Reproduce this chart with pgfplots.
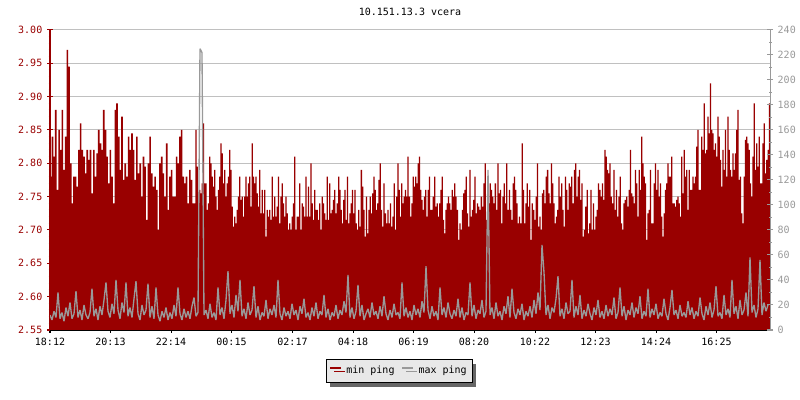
\documentclass[border=0pt]{standalone}
\usepackage{fontspec}
\setmainfont{DejaVu Sans Mono}
\usepackage{pgfplots}
\pgfplotsset{compat=1.18}
\usetikzlibrary{shadows}

\definecolor{minred}{HTML}{990000}
\definecolor{maxgray}{HTML}{999999}
\definecolor{gridgray}{HTML}{C0C0C0}
\definecolor{legfill}{HTML}{E8E8E8}
\definecolor{shadowgray}{HTML}{666666}

% 1 px of the reference = 0.75pt
\pgfplotsset{
  common/.style={
    scale only axis, width=540pt, height=225pt,
    at={(37.5pt,52.5pt)}, anchor=south west,
    xmin=0, xmax=1440,
    tick align=inside,
    major tick length=4.5pt, minor tick length=2.25pt,
    ticklabel style={font=\fontsize{7.5}{9}\selectfont},
    /pgf/number format/assume math mode=true,
  },
}

\begin{document}
\begin{tikzpicture}
\useasboundingbox (0,0) rectangle (600pt,300pt);

% min ping, left axis
\begin{axis}[common,
  ymin=2.55, ymax=3.00,
  axis x line=bottom, axis y line=left,
  x axis line style={black, line width=1.2pt, -},
  y axis line style={minred, line width=0.75pt, -},
  xtick={0,121,242,363,485,606,727,848,970,1091,1212,1333},
  xticklabels={18:12,20:13,22:14,00:15,02:17,04:18,06:19,08:20,10:22,12:23,14:24,16:25},
  xtick style={black, line width=0.75pt},
  major x tick style={/pgfplots/major tick length=3.75pt},
  ytick={2.55,2.60,...,3.01},
  minor y tick num=4,
  ytick style={minred, line width=0.75pt},
  yticklabel style={minred, /pgf/number format/.cd, fixed, fixed zerofill, precision=2},
  ymajorgrids, major grid style={gridgray, line width=0.75pt},
  title={10.151.13.3 vcera},
  title style={font=\fontsize{7.5}{9}\selectfont, yshift=1pt},
]
\addplot[const plot, fill=minred, draw=none] table[row sep=\\, x expr=0+\coordindex*3.3103, y index=0] {
2.78\\ 2.84\\ 2.81\\ 2.88\\ 2.76\\ 2.85\\ 2.82\\ 2.88\\ 2.79\\ 2.84\\ 2.97\\ 2.945\\ 2.80\\ 2.74\\ 2.78\\ 2.78\\ 2.765\\ 2.82\\ 2.86\\ 2.82\\
2.81\\ 2.785\\ 2.82\\ 2.805\\ 2.82\\ 2.755\\ 2.82\\ 2.78\\ 2.815\\ 2.85\\ 2.83\\ 2.82\\ 2.88\\ 2.85\\ 2.81\\ 2.77\\ 2.82\\ 2.78\\ 2.74\\ 2.88\\
2.89\\ 2.84\\ 2.79\\ 2.87\\ 2.775\\ 2.80\\ 2.78\\ 2.84\\ 2.82\\ 2.845\\ 2.82\\ 2.775\\ 2.84\\ 2.785\\ 2.80\\ 2.75\\ 2.81\\ 2.795\\ 2.715\\ 2.80\\
2.84\\ 2.785\\ 2.765\\ 2.78\\ 2.76\\ 2.70\\ 2.80\\ 2.81\\ 2.785\\ 2.75\\ 2.83\\ 2.73\\ 2.78\\ 2.79\\ 2.75\\ 2.75\\ 2.81\\ 2.80\\ 2.84\\ 2.85\\
2.78\\ 2.77\\ 2.78\\ 2.74\\ 2.79\\ 2.775\\ 2.74\\ 2.74\\
} \closedcycle;
\addplot[const plot, fill=minred, draw=none] table[row sep=\\, x expr=288+\coordindex*2.5043, y index=0] {
2.74\\ 2.85\\ 2.795\\ 2.72\\ 2.76\\ 2.755\\ 2.77\\ 2.86\\ 2.77\\ 2.77\\ 2.73\\ 2.74\\ 2.81\\ 2.80\\ 2.78\\ 2.765\\ 2.79\\ 2.75\\ 2.73\\ 2.76\\
2.78\\ 2.83\\ 2.815\\ 2.77\\ 2.79\\ 2.75\\ 2.77\\ 2.78\\ 2.82\\ 2.79\\ 2.735\\ 2.705\\ 2.72\\ 2.71\\ 2.73\\ 2.75\\ 2.78\\ 2.745\\ 2.75\\ 2.72\\
2.75\\ 2.78\\ 2.75\\ 2.77\\ 2.78\\ 2.735\\ 2.83\\ 2.78\\ 2.77\\ 2.78\\ 2.755\\ 2.735\\ 2.79\\ 2.725\\ 2.76\\ 2.725\\ 2.76\\ 2.69\\ 2.73\\ 2.72\\
2.73\\ 2.715\\ 2.78\\ 2.72\\ 2.75\\ 2.72\\ 2.735\\ 2.78\\ 2.71\\ 2.75\\ 2.77\\ 2.74\\ 2.72\\ 2.75\\ 2.725\\ 2.70\\ 2.71\\ 2.70\\ 2.72\\ 2.74\\
2.81\\ 2.70\\ 2.72\\ 2.72\\ 2.77\\ 2.70\\ 2.74\\ 2.735\\ 2.72\\ 2.78\\ 2.72\\ 2.765\\ 2.72\\ 2.80\\ 2.74\\ 2.715\\ 2.76\\ 2.73\\ 2.73\\ 2.715\\
2.74\\ 2.70\\ 2.75\\ 2.74\\ 2.725\\ 2.715\\ 2.78\\ 2.715\\ 2.77\\ 2.725\\ 2.73\\ 2.745\\ 2.76\\ 2.725\\ 2.74\\ 2.74\\
} \closedcycle;
\addplot[const plot, fill=minred, draw=none] table[row sep=\\, x expr=576+\coordindex*2.5263, y index=0] {
2.78\\ 2.76\\ 2.73\\ 2.71\\ 2.745\\ 2.76\\ 2.715\\ 2.78\\ 2.71\\ 2.725\\ 2.74\\ 2.76\\ 2.725\\ 2.76\\ 2.71\\ 2.70\\ 2.73\\ 2.705\\ 2.79\\ 2.765\\
2.73\\ 2.69\\ 2.75\\ 2.695\\ 2.73\\ 2.75\\ 2.725\\ 2.755\\ 2.78\\ 2.76\\ 2.73\\ 2.74\\ 2.775\\ 2.80\\ 2.73\\ 2.705\\ 2.77\\ 2.725\\ 2.71\\ 2.73\\
2.71\\ 2.74\\ 2.705\\ 2.72\\ 2.77\\ 2.70\\ 2.75\\ 2.80\\ 2.76\\ 2.72\\ 2.77\\ 2.74\\ 2.75\\ 2.76\\ 2.75\\ 2.81\\ 2.75\\ 2.72\\ 2.74\\ 2.78\\
2.765\\ 2.78\\ 2.77\\ 2.80\\ 2.81\\ 2.76\\ 2.745\\ 2.73\\ 2.75\\ 2.76\\ 2.72\\ 2.76\\ 2.78\\ 2.73\\ 2.73\\ 2.75\\ 2.78\\ 2.735\\ 2.74\\ 2.72\\
2.74\\ 2.76\\ 2.78\\ 2.715\\ 2.695\\ 2.73\\ 2.74\\ 2.75\\ 2.74\\ 2.73\\ 2.76\\ 2.75\\ 2.77\\ 2.75\\ 2.73\\ 2.685\\ 2.71\\ 2.70\\ 2.73\\ 2.755\\
2.76\\ 2.78\\ 2.725\\ 2.705\\ 2.79\\ 2.72\\ 2.73\\ 2.745\\ 2.78\\ 2.725\\ 2.74\\ 2.735\\ 2.73\\ 2.75\\ 2.75\\
} \closedcycle;
\addplot[const plot, fill=minred, draw=none] table[row sep=\\, x expr=864+\coordindex*2.5487, y index=0] {
2.735\\ 2.77\\ 2.80\\ 2.715\\ 2.77\\ 2.74\\ 2.77\\ 2.76\\ 2.75\\ 2.74\\ 2.77\\ 2.73\\ 2.80\\ 2.755\\ 2.76\\ 2.71\\ 2.75\\ 2.77\\ 2.74\\ 2.80\\
2.73\\ 2.76\\ 2.73\\ 2.715\\ 2.77\\ 2.78\\ 2.76\\ 2.74\\ 2.71\\ 2.72\\ 2.71\\ 2.83\\ 2.76\\ 2.71\\ 2.74\\ 2.77\\ 2.735\\ 2.76\\ 2.685\\ 2.74\\
2.73\\ 2.715\\ 2.75\\ 2.80\\ 2.705\\ 2.72\\ 2.70\\ 2.755\\ 2.76\\ 2.74\\ 2.78\\ 2.79\\ 2.755\\ 2.74\\ 2.80\\ 2.77\\ 2.74\\ 2.71\\ 2.72\\ 2.73\\
2.78\\ 2.75\\ 2.77\\ 2.73\\ 2.705\\ 2.78\\ 2.76\\ 2.73\\ 2.77\\ 2.765\\ 2.78\\ 2.74\\ 2.79\\ 2.80\\ 2.75\\ 2.78\\ 2.79\\ 2.745\\ 2.77\\ 2.69\\
2.70\\ 2.735\\ 2.76\\ 2.695\\ 2.71\\ 2.76\\ 2.70\\ 2.74\\ 2.70\\ 2.72\\ 2.73\\ 2.77\\ 2.76\\ 2.75\\ 2.77\\ 2.745\\ 2.82\\ 2.81\\ 2.79\\ 2.785\\
2.80\\ 2.75\\ 2.74\\ 2.79\\ 2.73\\ 2.76\\ 2.72\\ 2.75\\ 2.78\\ 2.71\\ 2.70\\ 2.74\\ 2.745\\ 2.745\\
} \closedcycle;
\addplot[const plot, fill=minred, draw=none] table[row sep=\\, x expr=1152+\coordindex*2.5043, y index=0] {
2.75\\ 2.735\\ 2.76\\ 2.82\\ 2.755\\ 2.75\\ 2.74\\ 2.79\\ 2.77\\ 2.72\\ 2.79\\ 2.76\\ 2.84\\ 2.80\\ 2.78\\ 2.77\\ 2.685\\ 2.725\\ 2.73\\ 2.79\\
2.71\\ 2.71\\ 2.77\\ 2.80\\ 2.76\\ 2.79\\ 2.75\\ 2.77\\ 2.72\\ 2.69\\ 2.725\\ 2.76\\ 2.77\\ 2.80\\ 2.78\\ 2.78\\ 2.81\\ 2.74\\ 2.74\\ 2.735\\
2.745\\ 2.75\\ 2.74\\ 2.72\\ 2.81\\ 2.755\\ 2.82\\ 2.78\\ 2.79\\ 2.73\\ 2.79\\ 2.76\\ 2.76\\ 2.78\\ 2.77\\ 2.78\\ 2.825\\ 2.85\\ 2.76\\ 2.76\\
2.84\\ 2.82\\ 2.89\\ 2.815\\ 2.82\\ 2.87\\ 2.845\\ 2.92\\ 2.85\\ 2.845\\ 2.82\\ 2.83\\ 2.81\\ 2.87\\ 2.84\\ 2.805\\ 2.765\\ 2.82\\ 2.79\\ 2.85\\
2.78\\ 2.87\\ 2.82\\ 2.79\\ 2.78\\ 2.815\\ 2.79\\ 2.815\\ 2.85\\ 2.88\\ 2.775\\ 2.78\\ 2.725\\ 2.71\\ 2.78\\ 2.835\\ 2.84\\ 2.83\\ 2.82\\ 2.77\\
2.75\\ 2.81\\ 2.89\\ 2.79\\ 2.83\\ 2.795\\ 2.84\\ 2.77\\ 2.77\\ 2.83\\ 2.86\\ 2.785\\ 2.805\\ 2.82\\ 2.89\\ 2.89\\
} \closedcycle;
\end{axis}

% max ping, right axis
\begin{axis}[common,
  ymin=0, ymax=240,
  axis x line=none, axis y line=right,
  y axis line style={maxgray, line width=0.75pt, -},
  ytick={0,20,...,240},
  minor y tick num=1,
  ytick style={maxgray, line width=0.75pt},
  yticklabel style={maxgray},
  legend columns=2,
  legend style={at={(0.485,-0.137)}, anchor=center,
    draw=black, line width=0.75pt, fill=legfill,
    font=\fontsize{7.5}{9}\selectfont,
    inner xsep=2pt, inner ysep=3pt,
    drop shadow={shadow xshift=3pt, shadow yshift=-3pt, fill=shadowgray, opacity=1},
    /tikz/every odd column/.append style={column sep=1.5pt},
    /tikz/every even column/.append style={column sep=3pt}},
  legend image code/.code={\draw[line width=1.5pt] (0pt,2.6pt) -- (8pt,2.6pt);},
]
\addlegendimage{minred}
\addlegendentry{min ping}
\addplot[maxgray, line width=1pt, line join=bevel] table[row sep=\\, x expr=\coordindex*4, y index=0] {
12\\ 8\\ 15\\ 10\\ 30\\ 9\\ 14\\ 7\\ 18\\ 11\\ 22\\ 9\\ 13\\ 31\\ 10\\ 16\\ 8\\ 20\\ 12\\ 9\\
14\\ 33\\ 11\\ 17\\ 8\\ 19\\ 12\\ 24\\ 38\\ 15\\ 10\\ 21\\ 13\\ 40\\ 16\\ 9\\ 22\\ 14\\ 38\\ 11\\
18\\ 10\\ 25\\ 39\\ 13\\ 8\\ 20\\ 12\\ 16\\ 37\\ 10\\ 19\\ 9\\ 34\\ 12\\ 7\\ 15\\ 10\\ 18\\ 8\\
14\\ 9\\ 20\\ 11\\ 34\\ 13\\ 8\\ 17\\ 10\\ 15\\ 9\\ 19\\ 26\\ 11\\ 14\\ 225\\ 222\\ 12\\ 16\\ 9\\
21\\ 10\\ 14\\ 8\\ 34\\ 12\\ 18\\ 9\\ 24\\ 47\\ 13\\ 20\\ 10\\ 28\\ 15\\ 40\\ 11\\ 17\\ 9\\ 22\\
12\\ 16\\ 35\\ 10\\ 19\\ 8\\ 14\\ 11\\ 24\\ 9\\ 17\\ 12\\ 20\\ 10\\ 40\\ 13\\ 8\\ 18\\ 11\\ 15\\
9\\ 21\\ 12\\ 16\\ 8\\ 19\\ 13\\ 25\\ 10\\ 14\\ 8\\ 18\\ 11\\ 22\\ 9\\ 15\\ 12\\ 28\\ 10\\ 17\\
8\\ 14\\ 11\\ 20\\ 9\\ 16\\ 12\\ 23\\ 14\\ 44\\ 10\\ 18\\ 9\\ 15\\ 36\\ 11\\ 20\\ 8\\ 13\\ 17\\
10\\ 22\\ 12\\ 15\\ 9\\ 19\\ 11\\ 27\\ 13\\ 8\\ 16\\ 10\\ 21\\ 12\\ 14\\ 9\\ 38\\ 11\\ 18\\ 10\\
15\\ 8\\ 20\\ 12\\ 17\\ 10\\ 23\\ 14\\ 51\\ 16\\ 9\\ 19\\ 11\\ 15\\ 8\\ 34\\ 12\\ 18\\ 10\\ 22\\
13\\ 9\\ 16\\ 11\\ 25\\ 10\\ 18\\ 8\\ 14\\ 12\\ 38\\ 11\\ 20\\ 9\\ 16\\ 13\\ 24\\ 10\\ 15\\ 128\\
12\\ 18\\ 9\\ 22\\ 11\\ 15\\ 8\\ 19\\ 13\\ 27\\ 10\\ 33\\ 14\\ 9\\ 17\\ 12\\ 21\\ 8\\ 15\\ 11\\
19\\ 10\\ 24\\ 13\\ 30\\ 16\\ 68\\ 46\\ 12\\ 20\\ 9\\ 18\\ 14\\ 25\\ 43\\ 11\\ 17\\ 9\\ 22\\ 13\\
15\\ 40\\ 10\\ 19\\ 12\\ 28\\ 9\\ 16\\ 11\\ 21\\ 13\\ 8\\ 18\\ 12\\ 24\\ 10\\ 15\\ 9\\ 20\\ 11\\
17\\ 12\\ 26\\ 9\\ 14\\ 34\\ 11\\ 19\\ 8\\ 16\\ 12\\ 22\\ 10\\ 18\\ 13\\ 27\\ 9\\ 15\\ 11\\ 33\\
10\\ 17\\ 12\\ 21\\ 9\\ 14\\ 11\\ 25\\ 13\\ 8\\ 18\\ 32\\ 12\\ 16\\ 9\\ 20\\ 11\\ 14\\ 10\\ 23\\
12\\ 18\\ 9\\ 15\\ 11\\ 26\\ 13\\ 8\\ 19\\ 12\\ 22\\ 10\\ 16\\ 35\\ 11\\ 14\\ 9\\ 28\\ 12\\ 17\\
10\\ 40\\ 13\\ 19\\ 9\\ 24\\ 12\\ 16\\ 30\\ 11\\ 58\\ 14\\ 20\\ 10\\ 17\\ 56\\ 12\\ 22\\ 15\\ 20\\
};
\addlegendentry{max ping}
\end{axis}
\end{tikzpicture}
\end{document}
